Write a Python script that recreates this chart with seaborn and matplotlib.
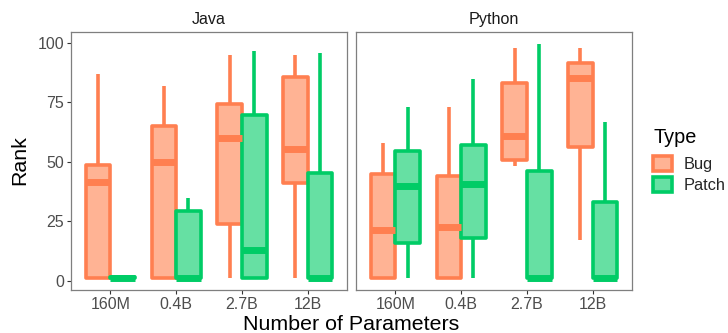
import numpy as np
import pandas as pd
import matplotlib
matplotlib.use("Agg")
import matplotlib.pyplot as plt
import seaborn as sns
from matplotlib.patches import Patch

# ---- data (five-number summaries: min, q1, median, q3, max)
params = ["160M", "0.4B", "2.7B", "12B"]
languages = ["Java", "Python"]
types = ["Bug", "Patch"]

java_bug = [
    [1, 1, 41.6, 48.5, 87],
    [1, 1, 50, 65.2, 81.8],
    [1, 24, 60, 74.3, 95],
    [1, 41.1, 55.3, 85.7, 95],
]
java_patch = [
    [1, 1, 1, 1.5, 2],
    [1, 1, 1, 29.2, 34.8],
    [1, 1, 12.8, 69.8, 96.8],
    [1, 1, 1, 45.1, 95.8],
]
python_bug = [
    [1, 1, 21.2, 44.7, 57.9],
    [1, 1, 22.6, 44.2, 72.9],
    [48.4, 50.9, 61, 83.2, 97.7],
    [17.2, 56.4, 85.1, 91.6, 97.7],
]
python_patch = [
    [1, 15.8, 39.7, 54.7, 72.9],
    [1, 18, 40.8, 57.1, 84.9],
    [1, 1, 1, 46, 99.7],
    [1, 1, 1, 33.1, 66.8],
]
y_ticks = [0, 25, 50, 75, 100]

line_colors = {"Bug": "#FF7F50", "Patch": "#00CC66"}
fill_colors = {"Bug": "#FFB394", "Patch": "#66E0A3"}

rows = []
for lang, d in [("Java", {"Bug": java_bug, "Patch": java_patch}),
                ("Python", {"Bug": python_bug, "Patch": python_patch})]:
    for t, vals in d.items():
        for p, five in zip(params, vals):
            for v in five:
                rows.append((lang, t, p, v))
df = pd.DataFrame(rows, columns=["Language", "Type", "Params", "Rank"])

sns.set_style("white")
plt.rcParams["font.family"] = ["Liberation Sans", "DejaVu Sans"]

W, H = 728, 333
fig = plt.figure(figsize=(W / 100, H / 100), dpi=100)


def px_axes(l, t, r, b):
    return fig.add_axes([l / W, 1 - b / H, (r - l) / W, (b - t) / H])


axes = [px_axes(71, 32, 347, 290), px_axes(356, 32, 632, 290)]
spine_col = "#7F7F7F"

for i, (ax, lang) in enumerate(zip(axes, languages)):
    sub = df[df.Language == lang]
    for t in types:
        sns.boxplot(
            data=sub[sub.Type == t], x="Params", y="Rank", hue="Type",
            order=params, hue_order=types, palette=fill_colors,
            saturation=1, linecolor=line_colors[t], linewidth=2.6,
            width=0.75, gap=0, dodge=True, whis=(0, 100),
            medianprops={"linewidth": 5.0},
            capprops={"linewidth": 0},
            boxprops={"joinstyle": "round"},
            legend=False, ax=ax,
        )
    ax.set_xlim(-0.6, 3.6)
    ax.set_ylim(-3.9, 104.6)
    ax.set_yticks(y_ticks)
    ax.set_xlabel("")
    ax.set_ylabel("")
    for s in ax.spines.values():
        s.set_visible(True)
        s.set_color(spine_col)
        s.set_linewidth(0.9)
    ax.tick_params(axis="both", length=3, width=0.8, color="#333333",
                   labelsize=11.5, labelcolor="#4D4D4D", pad=2,
                   bottom=True, left=True)
    if i == 1:
        ax.tick_params(axis="y", left=False, labelleft=False)
    ax.set_title(lang, fontsize=11.6, color="#1A1A1A", pad=5.5)

fig.text(20 / W, 1 - 160 / H, "Rank", rotation=90, ha="center", va="center",
         fontsize=15.4, color="black")
fig.text(351 / W, 3 / H, "Number of Parameters", ha="center", va="baseline",
         fontsize=15.4, color="black")

# legend title and keys
fig.text(654 / W, 1 - 143 / H, "Type", ha="left", va="baseline",
         fontsize=14.3, color="black")
handles = [Patch(facecolor=fill_colors[t], edgecolor=line_colors[t], linewidth=2.6)
           for t in types]
leg = fig.legend(handles, types, loc="upper left",
                 bbox_to_anchor=(653 / W, 1 - 156 / H), frameon=False,
                 borderaxespad=0, borderpad=0,
                 fontsize=11.8, handlelength=1.15,
                 handleheight=1.0, handletextpad=0.7, labelspacing=0.3)

fig.savefig("out.png", dpi=100)
